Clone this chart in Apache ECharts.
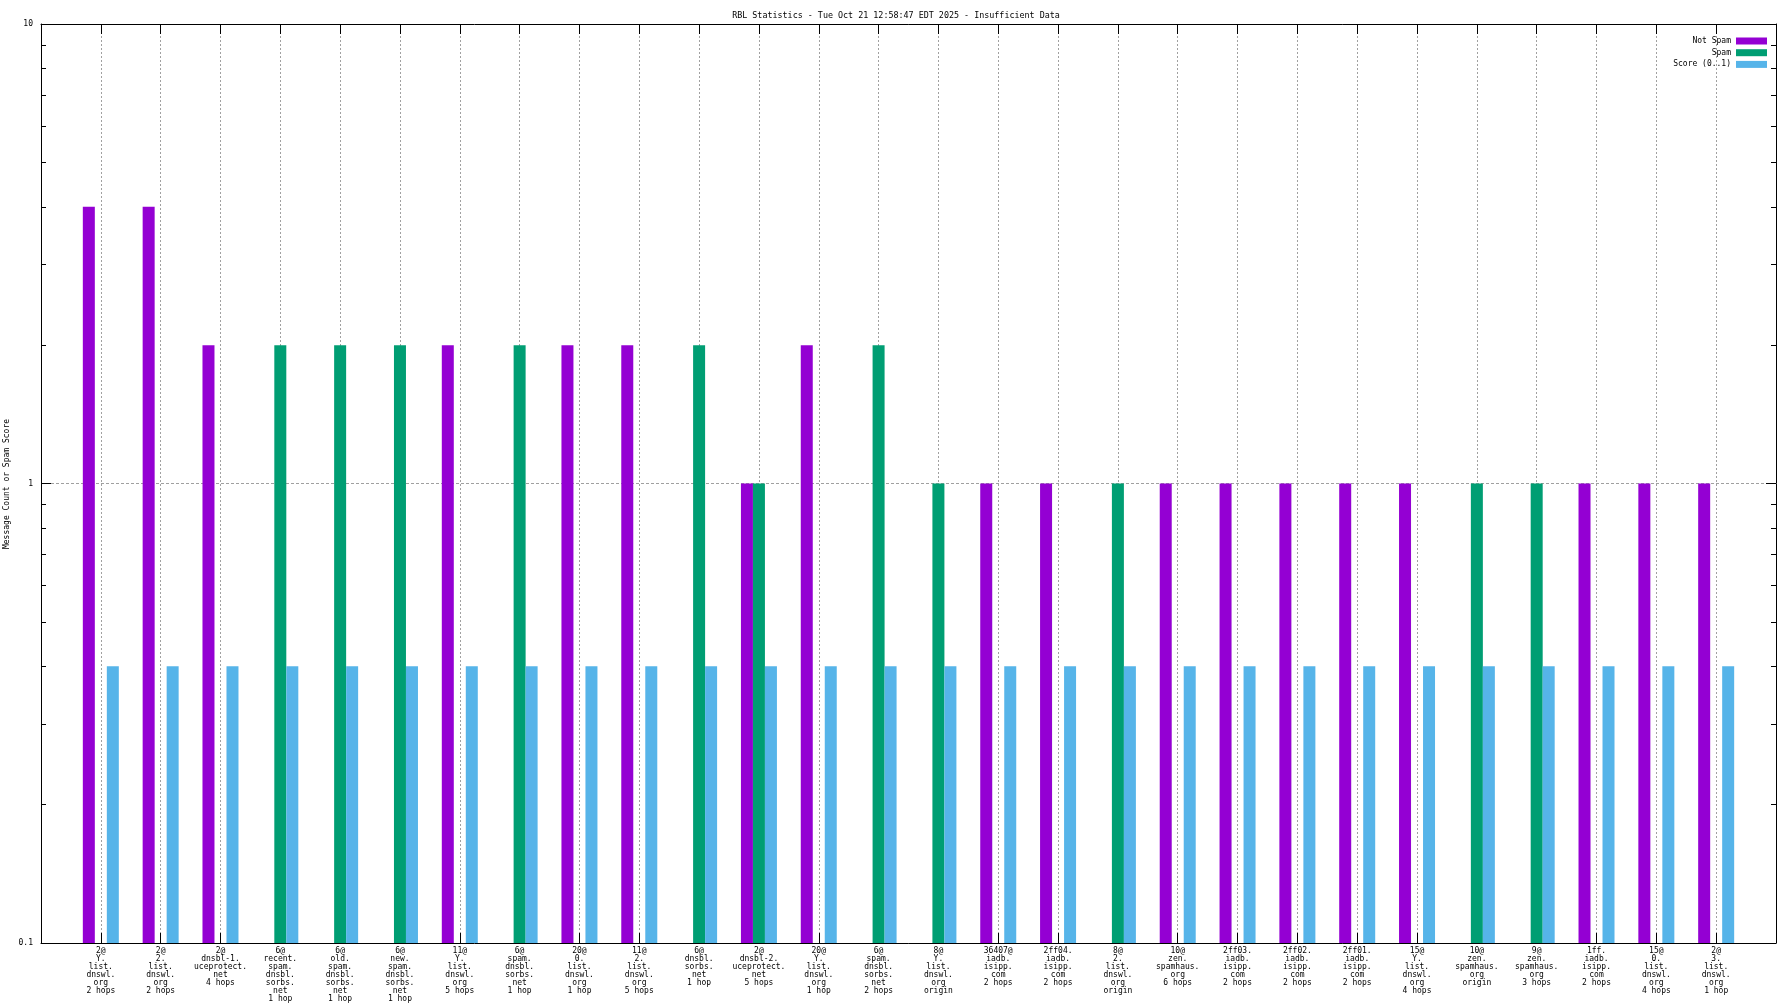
<!DOCTYPE html>
<html>
<head>
<meta charset="utf-8">
<script src="https://cdn.jsdelivr.net/npm/echarts@6/dist/echarts.min.js"></script>
<style>html,body{margin:0;padding:0;background:#fff;}#c{width:1792px;height:1008px;}</style>
</head>
<body>
<div id="c"></div>
<script>
const titleText = "RBL Statistics - Tue Oct 21 12:58:47 EDT 2025 - Insufficient Data";
const categories = [
  "2@\nY.\nlist.\ndnswl.\norg\n2 hops",
  "2@\n2.\nlist.\ndnswl.\norg\n2 hops",
  "2@\ndnsbl-1.\nuceprotect.\nnet\n4 hops",
  "6@\nrecent.\nspam.\ndnsbl.\nsorbs.\nnet\n1 hop",
  "6@\nold.\nspam.\ndnsbl.\nsorbs.\nnet\n1 hop",
  "6@\nnew.\nspam.\ndnsbl.\nsorbs.\nnet\n1 hop",
  "11@\nY.\nlist.\ndnswl.\norg\n5 hops",
  "6@\nspam.\ndnsbl.\nsorbs.\nnet\n1 hop",
  "20@\n0.\nlist.\ndnswl.\norg\n1 hop",
  "11@\n2.\nlist.\ndnswl.\norg\n5 hops",
  "6@\ndnsbl.\nsorbs.\nnet\n1 hop",
  "2@\ndnsbl-2.\nuceprotect.\nnet\n5 hops",
  "20@\nY.\nlist.\ndnswl.\norg\n1 hop",
  "6@\nspam.\ndnsbl.\nsorbs.\nnet\n2 hops",
  "8@\nY.\nlist.\ndnswl.\norg\norigin",
  "36407@\niadb.\nisipp.\ncom\n2 hops",
  "2ff04.\niadb.\nisipp.\ncom\n2 hops",
  "8@\n2.\nlist.\ndnswl.\norg\norigin",
  "10@\nzen.\nspamhaus.\norg\n6 hops",
  "2ff03.\niadb.\nisipp.\ncom\n2 hops",
  "2ff02.\niadb.\nisipp.\ncom\n2 hops",
  "2ff01.\niadb.\nisipp.\ncom\n2 hops",
  "15@\nY.\nlist.\ndnswl.\norg\n4 hops",
  "10@\nzen.\nspamhaus.\norg\norigin",
  "9@\nzen.\nspamhaus.\norg\n3 hops",
  "1ff.\niadb.\nisipp.\ncom\n2 hops",
  "15@\n0.\nlist.\ndnswl.\norg\n4 hops",
  "2@\n3.\nlist.\ndnswl.\norg\n1 hop"
];
const notSpam = [4,4,2,null,null,null,2,null,2,2,null,1,2,null,null,1,1,null,1,1,1,1,1,null,null,1,1,1];
const spam    = [null,null,null,2,2,2,null,2,null,null,2,1,null,2,1,null,null,1,null,null,null,null,null,1,1,null,null,null];
const score   = [0.4,0.4,0.4,0.4,0.4,0.4,0.4,0.4,0.4,0.4,0.4,0.4,0.4,0.4,0.4,0.4,0.4,0.4,0.4,0.4,0.4,0.4,0.4,0.4,0.4,0.4,0.4,0.4];
const seriesNames = ["Not Spam", "Spam", "Score (0..1)"];
const seriesColors = ["#9400d3", "#009e73", "#56b4e9"];
const yMinorTicks = [0.2,0.3,0.4,0.5,0.6,0.7,0.8,0.9,2,3,4,5,6,7,8,9];
const yName = "Message Count or Spam Score";

const FONT = "DejaVu Sans Mono";
const toPairs = arr => arr.map((v, i) => v == null ? null : [i, v]).filter(Boolean);

const logBase = {
  type: 'log', logBase: 10, min: 0.1, max: 10
};
const chart = echarts.init(document.getElementById('c'), null, {renderer: 'canvas'});
const option = {
  animation: false,
  backgroundColor: '#fff',
  textStyle: {fontFamily: FONT},
  title: {
    text: titleText, left: 'center', top: 7,
    textStyle: {fontFamily: FONT, fontSize: 8.4, fontWeight: 'normal', color: '#000'}
  },
  graphic: [{
    type: 'text', x: 7, y: 484, rotation: Math.PI / 2,
    style: {text: yName, font: '8px "DejaVu Sans Mono"', align: 'center', verticalAlign: 'middle', fill: '#000'}
  }],
  legend: {
    orient: 'vertical', right: 25, top: 36, align: 'right', padding: 0,
    itemWidth: 31, itemHeight: 7, itemGap: 1.7,
    icon: 'rect',
    textStyle: {fontFamily: FONT, fontSize: 8, color: '#000', lineHeight: 10},
    data: seriesNames
  },
  grid: {left: 41, right: 16, top: 24, bottom: 65, containLabel: false, outerBoundsMode: 'none'},
  xAxis: [
    {
      type: 'value', min: -1, max: 28, interval: 1, position: 'bottom',
      axisLine: {show: true, onZero: false, lineStyle: {color: '#000', width: 1}},
      axisTick: {show: true, inside: true, length: 10, lineStyle: {color: '#000'}},
      axisLabel: {
        show: true, margin: 4, fontFamily: FONT, fontSize: 8, lineHeight: 8, color: '#000',
        formatter: v => (v >= 0 && v < categories.length) ? categories[v] : ''
      },
      splitLine: {show: true, lineStyle: {color: '#a0a0a0', type: [2, 2], width: 1}}
    },
    {
      type: 'value', min: -1, max: 28, interval: 1, position: 'top',
      axisLine: {show: true, onZero: false, lineStyle: {color: '#000', width: 1}},
      axisTick: {show: true, inside: true, length: 10, lineStyle: {color: '#000'}},
      axisLabel: {show: false},
      splitLine: {show: false}
    }
  ],
  yAxis: [
    Object.assign({}, logBase, {
      position: 'left', startValue: 0.1,
      axisLine: {show: true, onZero: false, lineStyle: {color: '#000', width: 1}},
      axisTick: {show: true, inside: true, length: 10, lineStyle: {color: '#000'}},
      axisLabel: {show: true, margin: 8, fontFamily: FONT, fontSize: 8, color: '#000'},
      splitLine: {show: true, lineStyle: {color: '#a0a0a0', type: [3, 2], width: 1}}
    }),
    Object.assign({}, logBase, {
      position: 'left',
      axisLine: {show: false, onZero: false},
      axisTick: {show: true, inside: true, length: 5, customValues: yMinorTicks, lineStyle: {color: '#000'}},
      axisLabel: {show: false},
      splitLine: {show: false}
    }),
    Object.assign({}, logBase, {
      position: 'right',
      axisLine: {show: true, onZero: false, lineStyle: {color: '#000', width: 1}},
      axisTick: {show: true, inside: true, length: 10, lineStyle: {color: '#000'}},
      axisLabel: {show: false},
      splitLine: {show: false}
    }),
    Object.assign({}, logBase, {
      position: 'right',
      axisLine: {show: false, onZero: false},
      axisTick: {show: true, inside: true, length: 5, customValues: yMinorTicks, lineStyle: {color: '#000'}},
      axisLabel: {show: false},
      splitLine: {show: false}
    })
  ],
  series: [notSpam, spam, score].map((arr, k) => ({
    name: seriesNames[k],
    type: 'bar',
    xAxisIndex: 0, yAxisIndex: 0,
    barWidth: 12, barGap: '0%',
    itemStyle: {color: seriesColors[k]},
    data: toPairs(arr)
  }))
};
chart.setOption(option);
</script>
</body>
</html>
